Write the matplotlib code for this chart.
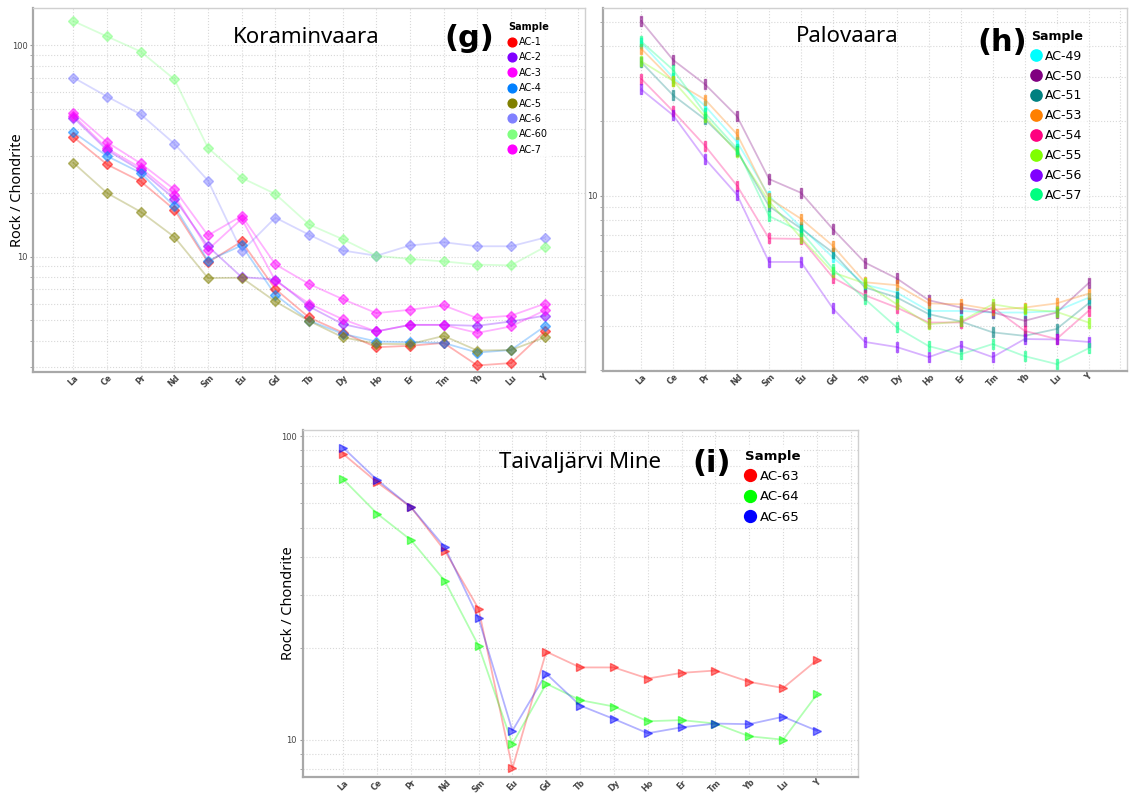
import numpy as np
import matplotlib
matplotlib.use('Agg')
import matplotlib.pyplot as plt
from matplotlib.lines import Line2D
from matplotlib.path import Path
from matplotlib.ticker import LogLocator, NullFormatter, FixedLocator

plt.rcParams['font.family'] = ['Noto Sans', 'DejaVu Sans']

ree = ['La', 'Ce', 'Pr', 'Nd', 'Sm', 'Eu', 'Gd', 'Tb', 'Dy', 'Ho', 'Er', 'Tm', 'Yb', 'Lu', 'Y']

# Koraminvaara (g)
kor_names = ['AC-1', 'AC-2', 'AC-3', 'AC-4', 'AC-5', 'AC-6', 'AC-60', 'AC-7']
kor_colors = ['#FF0000', '#8000FF', '#FF00FF', '#0080FF', '#808000', '#8080FF', '#80FF80', '#FF00FF']
ac1 = [36.8, 27.3, 22.7, 16.7, 9.4, 11.8, 7.03, 5.16, 4.38, 3.73, 3.79, 3.91, 3.06, 3.14, 4.43]
ac2 = [45.5, 31.9, 25.6, 18.8, 11.2, 8.0, 7.8, 5.82, 4.8, 4.43, 4.76, 4.76, 4.71, 4.94, 5.26]
ac3 = [46.5, 32.5, 26.3, 19.5, 10.8, 15.1, 7.7, 6.0, 5.06, 4.43, 4.76, 4.76, 4.36, 4.68, 5.57]
ac4 = [38.8, 29.9, 24.9, 17.3, 9.57, 11.3, 6.6, 4.99, 4.32, 3.97, 3.94, 3.91, 3.52, 3.62, 4.68]
ac5 = [27.8, 20.0, 16.3, 12.4, 7.92, 7.95, 6.14, 4.97, 4.16, 3.87, 3.86, 4.22, 3.60, 3.62, 4.15]
ac6 = [70.3, 57.2, 47.1, 34.2, 22.9, 10.6, 15.3, 12.7, 10.7, 10.1, 11.3, 11.7, 11.2, 11.2, 12.3]
ac60 = [130, 110, 93.3, 69, 32.7, 23.6, 19.8, 14.2, 12.1, 10.1, 9.75, 9.5, 9.17, 9.1, 11.1]
ac7 = [48, 34.8, 27.6, 20.8, 12.6, 15.6, 9.2, 7.43, 6.3, 5.41, 5.61, 5.88, 5.12, 5.26, 5.99]

# Palovaara (h)
pal_names = ['AC-49', 'AC-50', 'AC-51', 'AC-53', 'AC-54', 'AC-55', 'AC-56', 'AC-57']
pal_colors = ['#00FFFF', '#800080', '#008080', '#FF8000', '#FF0080', '#80FF00', '#8000FF', '#00FF80']
ac49 = [41.3, 29.9, 23.0, 16.5, 10.0, 7.5, 5.66, 4.4, 4.09, 3.45, 3.45, 3.40, 3.40, 3.45, 3.9]
ac50 = [50.5, 35.2, 28.1, 20.9, 11.7, 10.3, 7.35, 5.40, 4.66, 3.81, 3.56, 3.40, 3.15, 3.40, 4.46]
ac51 = [34.5, 25.4, 20.3, 15.2, 9.1, 7.4, 5.92, 4.29, 3.91, 3.35, 3.13, 2.83, 2.74, 2.92, 3.70]
ac53 = [39.1, 29.0, 24.4, 17.7, 9.8, 8.1, 6.3, 4.5, 4.38, 3.70, 3.67, 3.49, 3.56, 3.70, 4.05]
ac54 = [29.6, 21.9, 15.9, 11.0, 6.75, 6.72, 4.70, 3.99, 3.56, 3.10, 3.10, 3.57, 2.87, 2.66, 3.45]
ac55 = [34.8, 29.0, 20.8, 15.0, 9.5, 6.8, 4.93, 4.45, 3.67, 3.05, 3.13, 3.67, 3.50, 3.42, 3.10]
ac56 = [26.8, 21.1, 14.1, 10.1, 5.43, 5.43, 3.53, 2.59, 2.47, 2.25, 2.50, 2.25, 2.66, 2.65, 2.59]
ac57 = [41.8, 32.1, 21.5, 15.5, 8.3, 7.2, 5.08, 3.85, 2.96, 2.49, 2.31, 2.54, 2.27, 2.11, 2.44]

# Taivaljarvi Mine (i)
tai_names = ['AC-63', 'AC-64', 'AC-65']
tai_colors = ['#FF0000', '#00FF00', '#0000FF']
ac63 = [87.4, 70.5, 58.4, 42.0, 27.0, 8.04, 19.5, 17.3, 17.3, 15.9, 16.6, 16.9, 15.5, 14.8, 18.3]
ac64 = [72.1, 55.6, 45.5, 33.4, 20.4, 9.68, 15.3, 13.5, 12.86, 11.5, 11.6, 11.3, 10.26, 10.0, 14.1]
ac65 = [91.6, 71.8, 58.4, 43.1, 25.1, 10.7, 16.5, 12.96, 11.7, 10.5, 10.98, 11.3, 11.25, 11.9, 10.7]

# thin upright bar used as the Palovaara marker
bar_marker = Path([(-0.3, -1), (0.3, -1), (0.3, 1), (-0.3, 1), (-0.3, -1)],
                  [Path.MOVETO, Path.LINETO, Path.LINETO, Path.LINETO, Path.CLOSEPOLY])


def spider(ax, series, names, colors, marker, msize, ylim, title, tag, title_pos, tag_pos,
           leg_pos, leg_size, ylabel_x=None):
    x = np.arange(len(ree))
    for vals, c in zip(series, colors):
        ax.plot(x, vals, color=c, alpha=0.3, lw=1.3, zorder=2)
        ax.plot(x, vals, ls='none', marker=marker, ms=msize, color=c,
                mec=c, alpha=0.5, zorder=3)
    ax.set_yscale('log')
    ax.xaxis.set_major_locator(FixedLocator(np.arange(16)))
    ax.set_xticklabels(ree + [''], rotation=45, fontsize=5.8, fontweight='bold',
                       color='#444444', family='DejaVu Sans')
    ax.yaxis.set_major_locator(FixedLocator([10, 100]))
    ax.yaxis.set_minor_locator(LogLocator(base=10, subs=np.arange(2, 10)))
    ax.yaxis.set_minor_formatter(NullFormatter())
    ax.set_yticklabels(['10', '100'], fontsize=6, color='#444444', family='DejaVu Sans')
    ax.set_ylim(*ylim)
    ax.set_xlim(-1.2, 15.2)
    ax.tick_params(axis='x', length=0, pad=1)
    ax.tick_params(axis='y', which='both', length=2, color='#999999', pad=2)
    ax.grid(True, which='major', ls=':', lw=0.8, color='#d8d8d8')
    ax.grid(True, which='minor', axis='y', ls=':', lw=0.8, color='#d8d8d8')
    ax.set_axisbelow(True)
    for s in ['top', 'right']:
        ax.spines[s].set_color('#d0d0d0')
        ax.spines[s].set_linewidth(1)
    for s in ['left', 'bottom']:
        ax.spines[s].set_color('#a8a8a8')
        ax.spines[s].set_linewidth(1.6)
    if ylabel_x is not None:
        ax.set_ylabel('Rock / Chondrite', fontsize=10.5)
        ax.yaxis.set_label_coords(ylabel_x, 0.5)
    ax.text(title_pos[0], title_pos[1], title, transform=ax.transAxes,
            fontsize=16, ha='center', va='center')
    ax.text(tag_pos[0], tag_pos[1], tag, transform=ax.transAxes, family='DejaVu Sans',
            fontsize=22, fontweight='bold', ha='center', va='center')
    handles = [Line2D([], [], ls='none', marker='o', ms=leg_size * 0.9, color=c)
               for c in colors]
    leg = ax.legend(handles, names, title='Sample', loc='upper left',
                    bbox_to_anchor=leg_pos, frameon=True,
                    prop={'family': 'DejaVu Sans', 'size': leg_size},
                    handlelength=0.8, handletextpad=0.3, labelspacing=0.55,
                    borderaxespad=0, borderpad=0.3, alignment='left')
    leg.get_frame().set_edgecolor('none')
    leg.get_frame().set_facecolor('white')
    leg.get_title().set_family('DejaVu Sans')
    leg.get_title().set_fontweight('bold')
    leg.get_title().set_fontsize(leg_size)


fig = plt.figure(figsize=(11.29, 7.96), dpi=100)

ax_g = fig.add_axes([0.0292, 0.5327, 0.489, 0.4573])
spider(ax_g, [ac1, ac2, ac3, ac4, ac5, ac6, ac60, ac7], kor_names, kor_colors,
       'D', 5.5, (2.85, 150), 'Koraminvaara', '(g)', (0.495, 0.918), (0.79, 0.915),
       (0.855, 0.97), 7, ylabel_x=-0.015)

ax_h = fig.add_axes([0.534, 0.534, 0.4641, 0.456])
spider(ax_h, [ac49, ac50, ac51, ac53, ac54, ac55, ac56, ac57], pal_names, pal_colors,
       bar_marker, 7, (1.98, 57), 'Palovaara', '(h)', (0.467, 0.92), (0.763, 0.905),
       (0.81, 0.95), 9)

ax_i = fig.add_axes([0.268, 0.024, 0.4916, 0.4355])
spider(ax_i, [ac63, ac64, ac65], tai_names, tai_colors,
       '>', 6, (7.54, 104.6), 'Taivaljärvi Mine', '(i)', (0.50, 0.908), (0.737, 0.905),
       (0.79, 0.955), 9.5, ylabel_x=-0.011)

fig.savefig('out.png', dpi=100)
